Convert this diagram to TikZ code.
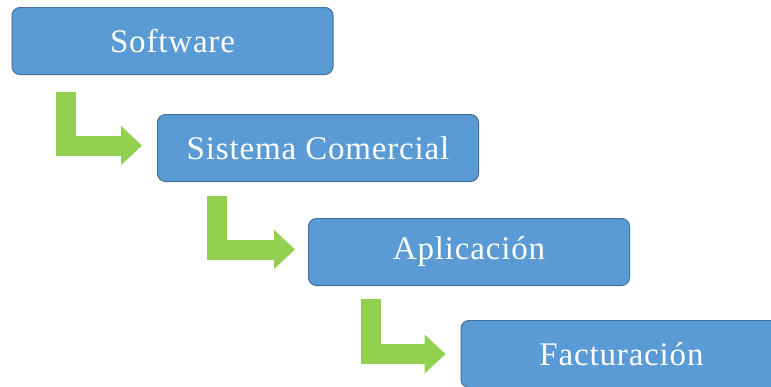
\documentclass[tikz,border=0pt]{standalone}
\usepackage{fontspec}
\setmainfont{Liberation Serif}
\newfontfamily\boxfont[LetterSpace=2.5]{Liberation Serif}
\usetikzlibrary{arrows.meta,calc}
\definecolor{boxfill}{RGB}{91,155,213}
\definecolor{boxline}{RGB}{65,113,156}
\definecolor{arrowgreen}{RGB}{146,208,80}
\tikzset{
  level/.style={rectangle, rounded corners=8pt, draw=boxline, line width=1pt,
    fill=boxfill, text=white, minimum width=321pt, minimum height=67pt,
    inner sep=0pt, font=\boxfont\fontsize{33}{40}\selectfont},
  bent/.style={draw=arrowgreen, line width=20pt, line join=miter, line cap=butt,
    -{Triangle[length=21pt,width=38pt]}}
}
\begin{document}
\begin{tikzpicture}[x=1pt,y=-1pt]
  \useasboundingbox (0,0) rectangle (771,386);
  \node[level] (sw)  at (172.5,41)   {Software};
  \node[level] (sc)  at (318,148)    {Sistema Comercial};
  \node[level] (ap)  at (469,252)    {Aplicación};
  \node[level] (fa)  at (621.5,354)  {Facturación};
  % L-shaped arrows stepping down from one level to the next
  \draw[bent] ($(sw.south west)+(54,16.5)$) |- ($(sc.west)+(-15,-2.5)$);
  \draw[bent] ($(sc.south west)+(60,13.5)$) |- ($(ap.west)+(-13,-2.5)$);
  \draw[bent] ($(ap.south west)+(63,12.5)$) |- ($(fa.west)+(-15,0)$);
\end{tikzpicture}
\end{document}
